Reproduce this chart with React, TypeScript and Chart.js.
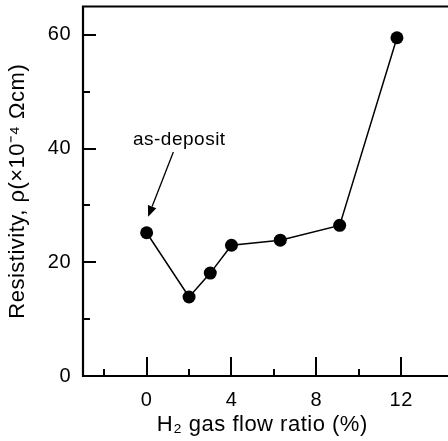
import React, { useEffect, useRef } from "react";
import { Chart, registerables } from "chart.js";

Chart.register(...registerables);

// H2 gas flow ratio (%) and measured resistivity (x10^-4 Ω·cm)
const flowRatio = [0, 2, 3, 4, 6.3, 9.1, 11.8];
const resistivity = [25.2, 13.9, 18.1, 23.0, 23.9, 26.5, 59.5];

// Axis tick values
const xMajorTicks = [0, 4, 8, 12];
const xMinorTicks = [-2, 2, 6, 10];
const yMajorTicks = [0, 20, 40, 60];
const yMinorTicks = [10, 30, 50];

const xTitle = "H₂ gas flow ratio (%)";
const yTitle = "Resistivity, ρ(×10⁻⁴ Ωcm)";

// Callout for the as-deposited film (data coordinates)
const calloutText = "as-deposit";
const calloutAt = { x: 1.54, y: 40.6 };
const arrowFrom = { x: 1.26, y: 39.4 };
const arrowTo = { x: 0.07, y: 28.0 };

const FONT = "'Liberation Sans', Arial, Helvetica, sans-serif";

const framePlugin = {
  id: "frame",
  beforeDraw(chart: any) {
    chart.ctx.letterSpacing = "0.5px";
  },
  afterDraw(chart: any) {
    const { ctx, chartArea, scales } = chart;
    const xs = scales.x;
    const ys = scales.y;
    const { left, top, bottom } = chartArea;
    const right = chart.width;
    ctx.save();
    ctx.strokeStyle = "#000";
    ctx.fillStyle = "#000";

    // Axis lines and top border
    ctx.lineWidth = 2.2;
    ctx.beginPath();
    ctx.moveTo(right, top);
    ctx.lineTo(left, top);
    ctx.lineTo(left, bottom);
    ctx.lineTo(right, bottom);
    ctx.stroke();

    // Inward ticks
    ctx.lineWidth = 2;
    ctx.beginPath();
    for (const v of xMajorTicks) {
      const px = Math.round(xs.getPixelForValue(v));
      ctx.moveTo(px, bottom);
      ctx.lineTo(px, bottom - 19);
    }
    for (const v of xMinorTicks) {
      const px = Math.round(xs.getPixelForValue(v));
      ctx.moveTo(px, bottom);
      ctx.lineTo(px, bottom - 7);
    }
    for (const v of yMajorTicks) {
      if (v === 0) continue;
      const py = Math.round(ys.getPixelForValue(v));
      ctx.moveTo(left, py);
      ctx.lineTo(left + 13, py);
    }
    for (const v of yMinorTicks) {
      const py = Math.round(ys.getPixelForValue(v));
      ctx.moveTo(left, py);
      ctx.lineTo(left + 7, py);
    }
    ctx.stroke();

    // Callout text
    ctx.font = `19px ${FONT}`;
    ctx.textAlign = "center";
    ctx.textBaseline = "alphabetic";
    ctx.fillText(calloutText, xs.getPixelForValue(calloutAt.x), ys.getPixelForValue(calloutAt.y));

    // Callout arrow
    const x1 = xs.getPixelForValue(arrowFrom.x);
    const y1 = ys.getPixelForValue(arrowFrom.y);
    const x2 = xs.getPixelForValue(arrowTo.x);
    const y2 = ys.getPixelForValue(arrowTo.y);
    const ang = Math.atan2(y2 - y1, x2 - x1);
    const headLen = 11;
    const headHalf = 4.5;
    const bx = x2 - headLen * Math.cos(ang);
    const by = y2 - headLen * Math.sin(ang);
    ctx.lineWidth = 1.3;
    ctx.beginPath();
    ctx.moveTo(x1, y1);
    ctx.lineTo(bx, by);
    ctx.stroke();
    ctx.beginPath();
    ctx.moveTo(x2, y2);
    ctx.lineTo(bx + headHalf * Math.sin(ang), by - headHalf * Math.cos(ang));
    ctx.lineTo(bx - headHalf * Math.sin(ang), by + headHalf * Math.cos(ang));
    ctx.closePath();
    ctx.fill();

    ctx.restore();
  },
};

export default function App() {
  const canvasRef = useRef<HTMLCanvasElement | null>(null);

  useEffect(() => {
    const canvas = canvasRef.current;
    if (!canvas) return;
    const chart = new Chart(canvas, {
      type: "scatter",
      data: {
        datasets: [
          {
            data: flowRatio.map((x, i) => ({ x, y: resistivity[i] })),
            showLine: true,
            borderColor: "#000",
            borderWidth: 1.5,
            backgroundColor: "#000",
            pointRadius: 6.5,
            pointBorderWidth: 0,
            pointBackgroundColor: "#000",
          },
        ],
      },
      options: {
        responsive: false,
        animation: false,
        devicePixelRatio: 1,
        layout: { padding: { top: 6, right: 0, left: 0, bottom: 0 } },
        plugins: {
          legend: { display: false },
          tooltip: { enabled: false },
        },
        scales: {
          x: {
            type: "linear",
            position: "bottom",
            min: -3,
            max: 13.9,
            afterBuildTicks: (s: any) => {
              s.ticks = xMajorTicks.map((value) => ({ value }));
            },
            afterFit: (s: any) => {
              s.height = 65;
              s.paddingLeft = 0;
              s.paddingRight = 0;
            },
            grid: { display: false, drawTicks: false },
            border: { display: false },
            ticks: {
              autoSkip: false,
              maxRotation: 0,
              minRotation: 0,
              padding: 12,
              color: "#000",
              font: { family: FONT, size: 20 },
            },
            title: {
              display: true,
              text: xTitle,
              color: "#000",
              font: { family: FONT, size: 22 },
              padding: { top: 0, bottom: 3 },
            },
          },
          y: {
            type: "linear",
            position: "left",
            min: 0,
            max: 65,
            afterBuildTicks: (s: any) => {
              s.ticks = yMajorTicks.map((value) => ({ value }));
            },
            afterFit: (s: any) => {
              s.width = 83;
              s.paddingTop = 0;
              s.paddingBottom = 0;
            },
            grid: { display: false, drawTicks: false },
            border: { display: false },
            ticks: {
              autoSkip: false,
              padding: 12,
              color: "#000",
              font: { family: FONT, size: 20 },
            },
            title: {
              display: true,
              text: yTitle,
              color: "#000",
              font: { family: FONT, size: 22 },
              padding: { top: 5, bottom: 0 },
            },
          },
        },
      },
      plugins: [framePlugin],
    });
    return () => chart.destroy();
  }, []);

  return (
    <div style={{ position: "absolute", left: 0, top: 0, width: 448, height: 441, background: "#fff" }}>
      <canvas ref={canvasRef} width={448} height={441} style={{ display: "block", width: 448, height: 441 }} />
    </div>
  );
}
